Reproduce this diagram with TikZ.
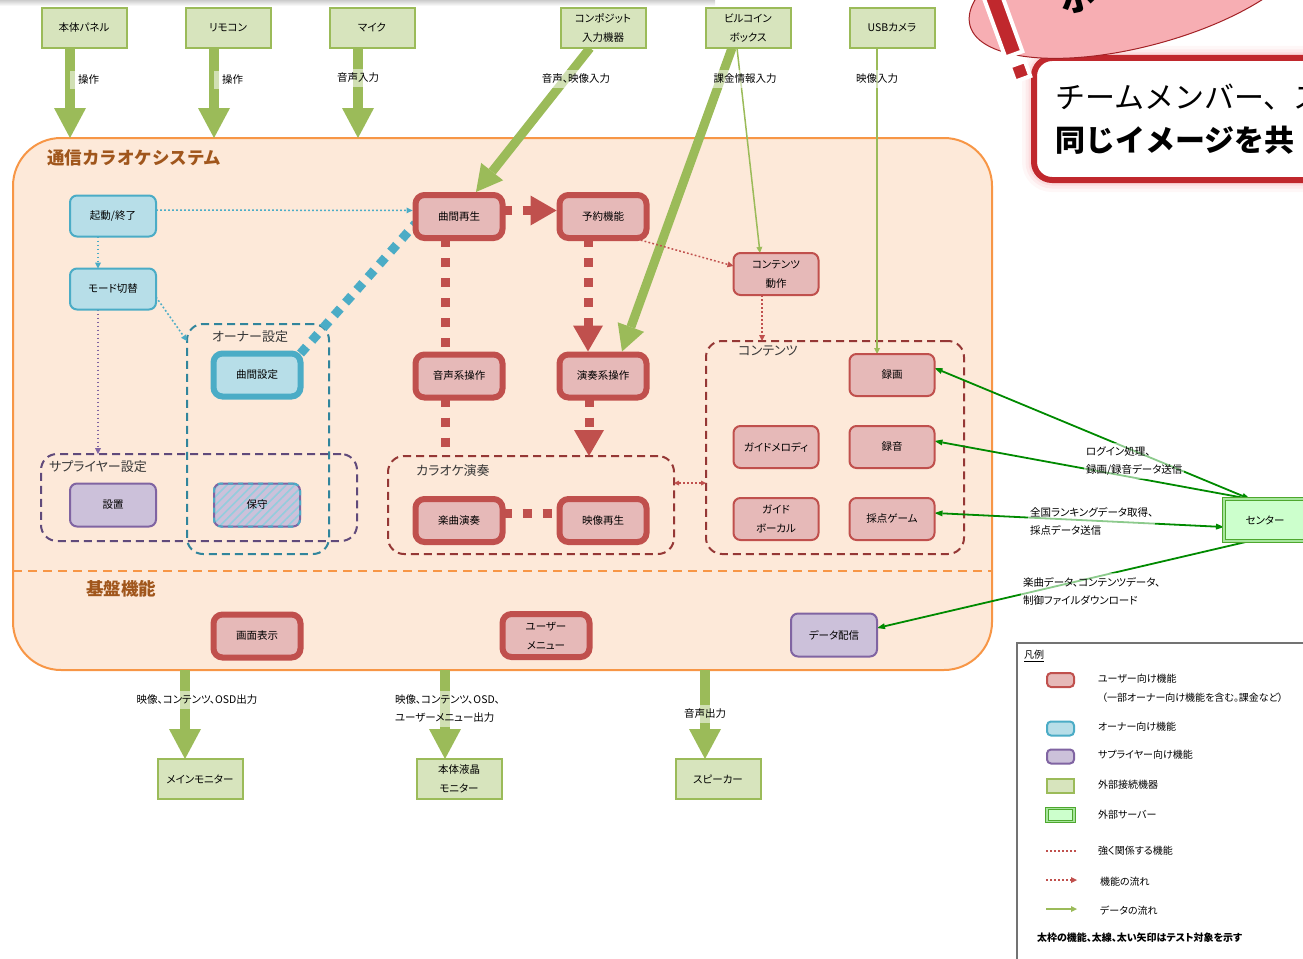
\documentclass[tikz,border=0pt]{standalone}
\usepackage{fontspec}
\setmainfont{Noto Sans CJK JP}[RawFeature=+palt]
\newfontfamily\fullwidth{Noto Sans CJK JP}
\usetikzlibrary{arrows.meta,calc,patterns.meta}
\pgfdeclarelayer{back}
\pgfdeclarelayer{links}
\pgfsetlayers{back,links,main}

\definecolor{sysF}{HTML}{FDE9D9}
\definecolor{sysD}{HTML}{F79646}
\definecolor{titleC}{HTML}{A0561C}
\definecolor{userF}{HTML}{E6B9B8}
\definecolor{userD}{HTML}{C0504D}
\definecolor{ownerF}{HTML}{B7DEE8}
\definecolor{ownerD}{HTML}{4BACC6}
\definecolor{supF}{HTML}{CCC1DA}
\definecolor{supD}{HTML}{8064A2}
\definecolor{extF}{HTML}{D7E4BD}
\definecolor{extD}{HTML}{9BBB59}
\definecolor{servF}{HTML}{CCFFCC}
\definecolor{servD}{HTML}{4EA72E}
\definecolor{grpOwner}{HTML}{31859C}
\definecolor{grpSup}{HTML}{604A7B}
\definecolor{grpRed}{HTML}{953735}
\definecolor{netG}{HTML}{008A00}
\definecolor{alertR}{HTML}{C0282D}
\definecolor{alertP}{HTML}{F7AEB3}

\tikzset{
  every node/.style={inner sep=0pt, outer sep=0pt},
  boxtext/.style={font=\fontsize{10.5}{19}\selectfont, align=center, text=black},
  extbox/.style={boxtext, draw=extD, fill=extF, line width=2pt, minimum width=85pt, minimum height=40pt},
  userbox/.style={boxtext, draw=userD, fill=userF, line width=2pt, rounded corners=7pt, minimum width=85pt, minimum height=42pt},
  userfat/.style={boxtext, draw=userD, fill=userF, line width=6pt, rounded corners=9pt, minimum width=87pt, minimum height=43pt},
  ownerbox/.style={boxtext, draw=ownerD, fill=ownerF, line width=2pt, rounded corners=7pt, minimum width=86pt, minimum height=41pt},
  ownerfat/.style={boxtext, draw=ownerD, fill=ownerF, line width=6pt, rounded corners=9pt, minimum width=87pt, minimum height=43pt},
  supbox/.style={boxtext, draw=supD, fill=supF, line width=2pt, rounded corners=7pt, minimum width=86pt, minimum height=43pt},
  hatchbox/.style={preaction={fill=supF}, pattern={Lines[angle=45,distance=6pt,line width=1.6pt]}, pattern color=ownerD!60,
     postaction={draw=ownerD, line width=2pt, dash pattern=on 5pt off 5pt}},
  serverbox/.style={boxtext, draw=servD, line width=0.9pt, double=servF!70!servD, double distance=1.6pt, fill=servF, minimum width=82pt, minimum height=42pt},
  grpbox/.style={line width=2pt, dash pattern=on 8pt off 5pt, rounded corners=16pt},
  grplabel/.style={font=\fontsize{13}{14}\selectfont, text=black!78},
  headline/.style={font=\fullwidth\fontsize{17.5}{20}\selectfont\bfseries, text=titleC},
  flowlabel/.style={font=\fontsize{10.5}{18}\selectfont, fill=white, fill opacity=0.55, text opacity=1, inner xsep=2pt, inner ysep=4pt, align=left},
  legendtext/.style={font=\fontsize{10}{12}\selectfont, text=black},
  fatarrow/.style={draw=extD, line width=10pt, -{Triangle[length=30pt,width=32pt,line width=0pt]}},
  slantarrow/.style={draw=extD, line width=9pt, -{Triangle[length=26pt,width=28pt,line width=0pt]}},
  datarrow/.style={draw=extD, line width=1.5pt, -{Triangle[length=6pt,width=6pt,line width=0pt]}},
  netlink/.style={draw=netG, line width=1.8pt},
  nettwo/.style={netlink, {Triangle[length=8pt,width=6pt,line width=0pt]}-{Triangle[length=8pt,width=6pt,line width=0pt]}},
  netone/.style={netlink, -{Triangle[length=8pt,width=6pt,line width=0pt]}},
  fatdots/.style={draw=userD, line width=9pt, dash pattern=on 9pt off 11pt},
  fatdotarrow/.style={fatdots, -{Triangle[length=26pt,width=30pt,line width=0pt]}},
  bluedots/.style={draw=ownerD, line width=9pt, dash pattern=on 9pt off 8pt},
  thindots/.style={line width=1.5pt, dash pattern=on 1.8pt off 2.2pt},
  smalltip/.style={-{Triangle[length=6pt,width=6pt,line width=0pt]}},
  twotips/.style={{Triangle[length=5pt,width=5pt,line width=0pt]}-{Triangle[length=5pt,width=5pt,line width=0pt]}},
}

\begin{document}
\begin{tikzpicture}[x=1pt,y=-1pt]
\useasboundingbox (0,0) rectangle (1303,958);
\clip (0,0) rectangle (1303,958);

% faint shadow along the upper edge
\shade[top color=black!20, bottom color=white] (0,0) rectangle (715,6);

% ---------- system frame and groups ----------
\begin{pgfonlayer}{back}
  \node[draw=sysD, fill=sysF, line width=2pt, rounded corners=48pt,
        minimum width=979pt, minimum height=532pt] (sys) at (502.5,404) {};
  \coordinate (sepL) at (13,571);
  \coordinate (sepR) at (992,571);
  \draw[sysD, line width=2pt, dash pattern=on 9pt off 6pt] (sepL) -- (sepR);

  \node[grpbox, draw=grpOwner, minimum width=142pt, minimum height=230pt] (gowner) at (258,439) {};
  \node[grpbox, draw=grpSup,   minimum width=316pt, minimum height=87pt]  (gsup)   at (199,497.5) {};
  \node[grpbox, draw=grpRed,   minimum width=286pt, minimum height=98pt]  (gkara)  at (531,505) {};
  \node[grpbox, draw=grpRed,   minimum width=258pt, minimum height=213pt] (gcont)  at (835,447.5) {};
\end{pgfonlayer}

\node[headline, anchor=west] (title) at (47,158) {通信カラオケシステム};
\node[headline, anchor=west] (basetitle) at (86,589) {基盤機能};

\node[grplabel] (lowner) at (250,337) {オーナー設定};
\node[grplabel] (lsup)   at (98,467)  {サプライヤー設定};
\node[grplabel] (lkara)  at (453,471) {カラオケ演奏};
\node[grplabel] (lcont)  at (768,351) {コンテンツ};

% ---------- external devices ----------
\node[extbox] (panel)  at (84,28)  {本体パネル};
\node[extbox] (remote) at (228,28) {リモコン};
\node[extbox] (mic)    at (372,28) {マイク};
\node[extbox] (comp)   at (603,28) {コンポジット\\入力機器};
\node[extbox] (bill)   at (748,28) {ビルコイン\\ボックス};
\node[extbox] (usb)    at (892,28) {USBカメラ};

\node[extbox] (mainmon) at (200,779) {メインモニター};
\node[extbox] (lcd)     at (459,779) {本体液晶\\モニター};
\node[extbox] (spk)     at (718,779) {スピーカー};

% ---------- functions ----------
\node[ownerbox] (boot) at (113,216) {起動/終了};
\node[ownerbox] (mode) at (113,289) {モード切替};
\node[ownerfat] (kset) at (257,375) {曲間設定};

\node[userfat] (kplay)  at (459,216.5) {曲間再生};
\node[userfat] (resv)   at (603,216.5) {予約機能};
\node[userfat] (voice)  at (459,376)   {音声系操作};
\node[userfat] (perf)   at (603,376)   {演奏系操作};
\node[userfat] (music)  at (459,520.5) {楽曲演奏};
\node[userfat] (video)  at (603,520.5) {映像再生};
\node[userfat] (screen) at (257,636)   {画面表示};
\node[userfat] (umenu)  at (546,635.5) {ユーザー\\メニュー};

\node[userbox] (cmove)  at (776,274) {コンテンツ\\動作};
\node[userbox] (rec)    at (892,375) {録画};
\node[userbox] (guidem) at (776,447) {ガイドメロディ};
\node[userbox] (audio)  at (892,447) {録音};
\node[userbox] (guidev) at (776,519) {ガイド\\ボーカル};
\node[userbox] (score)  at (892,519) {採点ゲーム};

\node[supbox] (install) at (113,505) {設置};
\node[supbox, hatchbox] (maint) at (257,505) {保守};
\node[supbox] (dist) at (834,635) {データ配信};

\node[serverbox] (center) at (1265,520) {センター};

% ---------- connectors ----------
\begin{pgfonlayer}{links}
  % device inputs
  \path ($(panel.south)+(-14,0)$)  coordinate (panelOut)
        ($(remote.south)+(-14,0)$) coordinate (remoteOut)
        ($(mic.south)+(-14,0)$)    coordinate (micOut);
  \draw[fatarrow] (panelOut)  -- (panelOut |- sys.north);
  \draw[fatarrow] (remoteOut) -- (remoteOut |- sys.north);
  \draw[fatarrow] (micOut)    -- (micOut |- sys.north);
  \draw[slantarrow] ($(comp.south)+(-13,0)$) -- ($(kplay.north)+(17,-3)$);
  \draw[slantarrow] ($(bill.south)+(-16,0)$) -- ($(perf.north)+(19,-3)$);
  \draw[datarrow] ($(bill.south)+(-11,0)$) -- ($(cmove.north)+(-16,0)$);
  \draw[datarrow] ($(usb.south)+(-15,0)$) -- ($(rec.north)+(-15,0)$);

  % outputs
  \path ($(mainmon.north)+(-15,0)$) coordinate (monIn)
        ($(lcd.north)+(-14,0)$)     coordinate (lcdIn)
        ($(spk.north)+(-13,0)$)     coordinate (spkIn);
  \draw[fatarrow] (monIn |- sys.south) -- (monIn);
  \draw[fatarrow] (lcdIn |- sys.south) -- (lcdIn);
  \draw[fatarrow] (spkIn |- sys.south) -- (spkIn);

  % owner functions
  \draw[thindots, ownerD, smalltip] ($(boot.east)+(0,-6)$) -- ($(kplay.west)+(-3,-6)$);
  \draw[thindots, ownerD, smalltip] ($(boot.south)+(-15,0)$) -- ($(mode.north)+(-15,0)$);
  \draw[thindots, ownerD, smalltip] ($(mode.east)+(0,8)$) -- ($(gowner.north west)+(0,17)$);
  \path ($(mode.south)+(-15,0)$) coordinate (modeOut);
  \draw[thindots, supD, smalltip] (modeOut) -- (modeOut |- gsup.north);
  \draw[bluedots] (kset.north east) -- ($(kplay.west)+(0,7)$);

  % user functions
  \draw[fatdotarrow] ($(kplay.east)+(0,-6)$) -- ($(resv.west)+(-3,-6)$);
  \draw[fatdots] ($(kplay.south)+(-14,0)$) -- ($(voice.north)+(-14,0)$);
  \draw[fatdotarrow] ($(resv.south)+(-15,0)$) -- ($(perf.north)+(-15,-3)$);
  \path ($(voice.south)+(-14,0)$) coordinate (voiceOut)
        ($(perf.south)+(-14,0)$)  coordinate (perfOut);
  \draw[fatdots] (voiceOut) -- (voiceOut |- gkara.north);
  \draw[fatdotarrow] (perfOut) -- (perfOut |- gkara.north);
  \draw[fatdots] ($(music.east)+(0,-7)$) -- ($(video.west)+(0,-7)$);

  \draw[thindots, userD, smalltip] ($(resv.south)+(30,0)$) -- ($(cmove.west)+(0,-8)$);
  \path ($(cmove.south)+(-14,0)$) coordinate (cmoveOut)
        ($(gkara.east)+(0,-22)$)  coordinate (karaOut);
  \draw[thindots, userD, smalltip] (cmoveOut) -- (cmoveOut |- gcont.north);
  \draw[thindots, userD, twotips] (karaOut) -- (karaOut -| gcont.west);

  % center server
  \draw[nettwo] ($(rec.east)+(0,-7)$)   -- ($(center.north)+(-15,0)$);
  \draw[nettwo] ($(audio.east)+(0,-6)$) -- ($(center.north)+(-15,0)$);
  \draw[nettwo] ($(score.east)+(0,-6)$) -- ($(center.west)+(0,7)$);
  \draw[netone] ($(center.south)+(-15,0)$) -- ($(dist.east)+(0,-7)$);
\end{pgfonlayer}

% ---------- flow labels ----------
\node[flowlabel, anchor=west, inner xsep=8pt] (lbOp1) at (70,80) {操作};
\node[flowlabel, anchor=west, inner xsep=8pt] (lbOp2) at (214,80) {操作};
\node[flowlabel] (lbMic)  at (358,78) {音声入力};
\node[flowlabel] (lbComp) at (576,79) {音声、映像入力};
\node[flowlabel] (lbBill) at (745,79) {課金情報入力};
\node[flowlabel] (lbUsb)  at (877,79) {映像入力};

\node[flowlabel] (lbMon) at (197,700) {映像、コンテンツ、OSD出力};
\node[flowlabel, anchor=west] (lbLcd) at (393,709) {映像、コンテンツ、OSD、\\ユーザーメニュー出力};
\node[flowlabel] (lbSpk) at (705,714) {音声出力};

\node[flowlabel, anchor=west] (lbLogin) at (1084,461) {ログイン処理、\\録画/録音データ送信};
\node[flowlabel, anchor=west] (lbRank)  at (1028,521) {全国ランキングデータ取得、\\採点データ送信};
\node[flowlabel, anchor=west] (lbDl)    at (1021,591) {楽曲データ、コンテンツデータ、\\制御ファイルダウンロード};

% ---------- legend ----------
\node[draw=black!55, line width=1.2pt, fill=white, minimum width=300pt, minimum height=330pt, anchor=north west] (legend) at (1017,643) {};
\node[legendtext, anchor=west] (lgTitle) at (1024,656) {\underline{凡例}};
\node[userbox,  minimum width=27pt, minimum height=14pt, rounded corners=4pt] (swUser)  at (1060.5,680) {};
\node[ownerbox, minimum width=27pt, minimum height=14pt, rounded corners=4pt] (swOwner) at (1060.5,728.5) {};
\node[supbox,   minimum width=27pt, minimum height=14pt, rounded corners=4pt] (swSup)   at (1060.5,756.5) {};
\node[extbox,   minimum width=27pt, minimum height=14pt] (swExt) at (1060.5,785.5) {};
\node[serverbox, minimum width=27pt, minimum height=13pt] (swServ) at (1060.5,815) {};
\coordinate (lgA1) at (1046,851); \coordinate (lgA2) at (1076,851);
\coordinate (lgB1) at (1046,880); \coordinate (lgB2) at (1077,880);
\coordinate (lgC1) at (1046,909); \coordinate (lgC2) at (1077,909);
\draw[thindots, userD] (lgA1) -- (lgA2);
\draw[thindots, userD, smalltip] (lgB1) -- (lgB2);
\draw[datarrow] (lgC1) -- (lgC2);
\node[legendtext, anchor=west] at (1098,679) {ユーザー向け機能};
\node[legendtext, anchor=west] at (1102,698) {（一部オーナー向け機能を含む。課金など）};
\node[legendtext, anchor=west] at (1098,727) {オーナー向け機能};
\node[legendtext, anchor=west] at (1098,755) {サプライヤー向け機能};
\node[legendtext, anchor=west] at (1098,785) {外部接続機器};
\node[legendtext, anchor=west] at (1098,815) {外部サーバー};
\node[legendtext, anchor=west] at (1098,851) {強く関係する機能};
\node[legendtext, anchor=west] at (1100,882) {機能の流れ};
\node[legendtext, anchor=west] at (1100,911) {データの流れ};
\node[legendtext, anchor=west, font=\fontsize{10}{12}\selectfont\bfseries] at (1037,938) {太枠の機能、太線、太い矢印はテスト対象を示す};

% ---------- note callout ----------
\foreach \w/\o in {24/0.10, 17/0.16, 11/0.25}
  \draw[alertP, line width=\w pt, opacity=\o, rounded corners=18pt] (1034,58) rectangle (1345,180);
\draw[alertR, line width=6pt, fill=white, rounded corners=18pt] (1034,58) rectangle (1345,180);
\node[anchor=west, font=\fullwidth\fontsize{30}{30}\selectfont] (noteA) at (1055,97) {チームメンバー、ス};
\node[anchor=west, font=\fullwidth\fontsize{30}{30}\selectfont\bfseries] (noteB) at (1055,140) {同じイメージを共};
\draw[fill=alertP, draw=alertR!85!black, line width=1pt, rotate around={15:(1140,-20)}]
  (1140,-20) ellipse [x radius=176, y radius=66];
\node[font=\fullwidth\fontsize{36}{36}\selectfont\bfseries, rotate=15] (noteHead) at (1077,-4) {ポ};
\begin{scope}[shift={(1005,30)}, rotate=20]
  \draw[fill=alertR, draw=white, line width=4pt] (-9,-46) rectangle (9,26);
  \draw[fill=alertR, draw=white, line width=4pt] (-8,36) rectangle (8,52);
\end{scope}
\end{tikzpicture}
\end{document}
